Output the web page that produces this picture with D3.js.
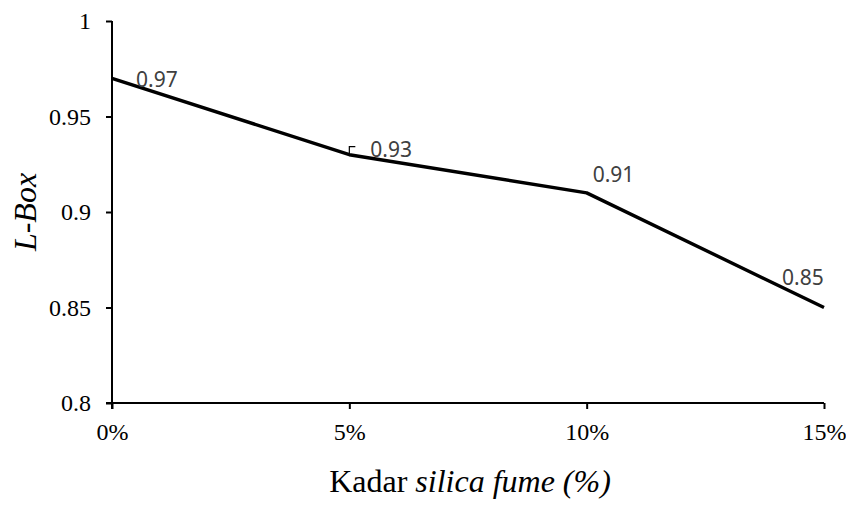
<!DOCTYPE html>
<html>
<head>
<meta charset="utf-8">
<script src="https://cdn.jsdelivr.net/npm/d3@7"></script>
<style>
  html, body { margin: 0; padding: 0; background: #fff; }
  svg { display: block; }
</style>
</head>
<body>
<svg id="chart" width="846" height="505"></svg>
<script>
// L-Box results versus silica fume content
const categories = ["0%", "5%", "10%", "15%"];
const lboxValues = [0.97, 0.93, 0.91, 0.85];
const yTicks = [0.8, 0.85, 0.9, 0.95, 1];
const yTickLabels = ["0.8", "0.85", "0.9", "0.95", "1"];

const svg = d3.select("#chart");
const plot = { left: 112, right: 824, top: 21, bottom: 403 };

const x = d3.scalePoint().domain(categories).range([plot.left, plot.right]);
const y = d3.scaleLinear().domain([0.8, 1]).range([plot.bottom, plot.top]);

const serif = "'Liberation Serif', 'Times New Roman', serif";
const labelFont = "'Noto Sans', 'Open Sans', sans-serif";

// Y axis
const yAxis = d3.axisLeft(y)
  .tickValues(yTicks)
  .tickFormat((d, i) => yTickLabels[i])
  .tickSize(6)
  .tickPadding(15);
const gy = svg.append("g").attr("transform", `translate(${plot.left},0)`).call(yAxis);
gy.select(".domain").attr("stroke", "#000").attr("stroke-width", 2)
  .attr("d", `M0,${plot.top}V${plot.bottom + 6}`);
gy.selectAll(".tick line").attr("stroke", "#000").attr("stroke-width", 2);
gy.selectAll(".tick text")
  .attr("font-family", serif).attr("font-size", 24).attr("fill", "#000");

// X axis
const xAxis = d3.axisBottom(x).tickSize(6).tickPadding(14);
const gx = svg.append("g").attr("transform", `translate(0,${plot.bottom})`).call(xAxis);
gx.select(".domain").attr("stroke", "#000").attr("stroke-width", 2)
  .attr("d", `M${plot.left - 6},0H${plot.right}`);
gx.selectAll(".tick line").attr("stroke", "#000").attr("stroke-width", 2);
gx.selectAll(".tick text")
  .attr("font-family", serif).attr("font-size", 24).attr("fill", "#000");

// Series line
const data = categories.map((c, i) => ({ c, v: lboxValues[i] }));
svg.append("path")
  .datum(data)
  .attr("fill", "none")
  .attr("stroke", "#000")
  .attr("stroke-width", 3.4)
  .attr("stroke-linejoin", "round")
  .attr("d", d3.line().x(d => x(d.c)).y(d => y(d.v)));

// Data labels (baseline offsets from each point)
const labelOffsets = [[24, 9], [21, 2], [6, -11], [-42, -23]];
svg.append("g").selectAll("text")
  .data(data)
  .join("text")
  .attr("x", (d, i) => x(d.c) + labelOffsets[i][0])
  .attr("y", (d, i) => y(d.v) + labelOffsets[i][1])
  .attr("font-family", labelFont)
  .attr("font-size", 21)
  .attr("fill", "#404040")
  .text(d => d.v.toFixed(2));

// Leader line for the 5% label
const p1 = data[1];
svg.append("path")
  .attr("fill", "none")
  .attr("stroke", "#000")
  .attr("stroke-width", 1.2)
  .attr("d", `M${x(p1.c)},${y(p1.v)}V${y(p1.v) - 8}H${x(p1.c) + 6}`);

// Axis titles
svg.append("text")
  .attr("x", 470)
  .attr("y", 492)
  .attr("text-anchor", "middle")
  .attr("font-family", serif)
  .attr("font-size", 32)
  .attr("fill", "#000")
  .call(t => {
    t.append("tspan").text("Kadar ");
    t.append("tspan").attr("font-style", "italic").text("silica fume (%)");
  });

svg.append("text")
  .attr("transform", `translate(36,${(plot.top + plot.bottom) / 2}) rotate(-90)`)
  .attr("text-anchor", "middle")
  .attr("font-family", serif)
  .attr("font-size", 32)
  .attr("font-style", "italic")
  .attr("fill", "#000")
  .text("L-Box");
</script>
</body>
</html>
